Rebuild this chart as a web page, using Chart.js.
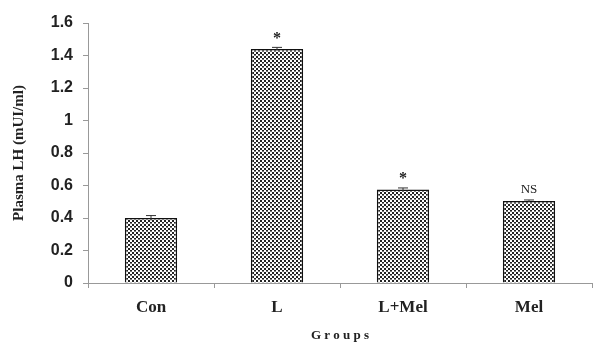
<!DOCTYPE html>
<html>
<head>
<meta charset="utf-8">
<script src="https://cdn.jsdelivr.net/npm/chart.js@4/dist/chart.umd.min.js"></script>
<style>
  html, body { margin: 0; padding: 0; background: #fff; }
  #wrap { position: relative; width: 601px; height: 343px; }
</style>
</head>
<body>
<div id="wrap"><canvas id="chart"></canvas></div>
<script>
// values
const groups = ['Con', 'L', 'L+Mel', 'Mel'];
const plasmaLH = [0.40, 1.44, 0.575, 0.505];
const errors = [0.015, 0.01, 0.01, 0.006];
const marks = ['', '*', '*', 'NS'];
const yTicks = [0, 0.2, 0.4, 0.6, 0.8, 1, 1.2, 1.4, 1.6];

// dotted fill like the printed figure
function dotPattern() {
  const c = document.createElement('canvas');
  c.width = 4; c.height = 4;
  const g = c.getContext('2d');
  g.fillStyle = '#fff';
  g.fillRect(0, 0, 4, 4);
  g.fillStyle = '#222';
  g.fillRect(0, 0, 2, 2);
  g.fillRect(2, 2, 2, 1);
  g.fillStyle = '#777';
  g.fillRect(2, 3, 2, 1);
  return g.createPattern(c, 'repeat');
}

const errorBars = {
  id: 'errorBars',
  afterDatasetsDraw(chart) {
    const ctx = chart.ctx;
    const meta = chart.getDatasetMeta(0);
    const y = chart.scales.y;
    ctx.save();
    ctx.strokeStyle = '#333';
    ctx.lineWidth = 1;
    meta.data.forEach((bar, i) => {
      const v = plasmaLH[i], e = errors[i];
      const top = y.getPixelForValue(v + e), bot = y.getPixelForValue(v - e);
      ctx.beginPath();
      ctx.moveTo(bar.x, top); ctx.lineTo(bar.x, bot);
      ctx.moveTo(bar.x - 5, top); ctx.lineTo(bar.x + 5, top);
      ctx.stroke();
      if (marks[i]) {
        ctx.fillStyle = '#222';
        ctx.textAlign = 'center';
        ctx.textBaseline = 'bottom';
        ctx.font = marks[i] === '*' ? 'bold 16px "Liberation Serif"' : '13px "Liberation Serif"';
        ctx.fillText(marks[i], bar.x, top - (marks[i] === '*' ? 1 : 4));
      }
    });
    ctx.restore();
  }
};

new Chart(document.getElementById('chart'), {
  type: 'bar',
  data: {
    labels: groups,
    datasets: [{
      data: plasmaLH,
      backgroundColor: dotPattern(),
      borderColor: '#111',
      borderWidth: 1.5,
      barPercentage: 0.83,
      categoryPercentage: 0.5
    }]
  },
  options: {
    responsive: true,
    maintainAspectRatio: false,
    animation: false,
    layout: { padding: { top: 23, right: 9, left: 0, bottom: 0 } },
    plugins: { legend: { display: false }, tooltip: { enabled: false } },
    scales: {
      x: {
        grid: { drawOnChartArea: false, drawTicks: true, tickLength: 5, color: '#999' },
        border: { color: '#999', width: 1 },
        ticks: { color: '#222', padding: 9, font: { family: 'Liberation Serif', size: 17, weight: 'bold' } },
        title: { display: true, text: 'G r o u p s', color: '#222', padding: { top: 6, bottom: 0 },
                 font: { family: 'Liberation Serif', size: 13, weight: 'bold' } },
        afterFit(s) { s.height = 60; }
      },
      y: {
        min: 0, max: 1.6,
        afterBuildTicks(s) { s.ticks = yTicks.map(v => ({ value: v })); },
        grid: { drawOnChartArea: false, drawTicks: true, tickLength: 5, color: '#999' },
        border: { color: '#999', width: 1 },
        ticks: { color: '#222', padding: 10, callback: v => String(v),
                 font: { family: 'Liberation Sans', size: 16, weight: 'bold' } },
        title: { display: true, text: 'Plasma LH (mUI/ml)', color: '#222', padding: { top: 10, bottom: 4 },
                 font: { family: 'Liberation Serif', size: 15, weight: 'bold' } },
        afterFit(s) { s.width = 88; }
      }
    }
  },
  plugins: [errorBars]
});
</script>
</body>
</html>
